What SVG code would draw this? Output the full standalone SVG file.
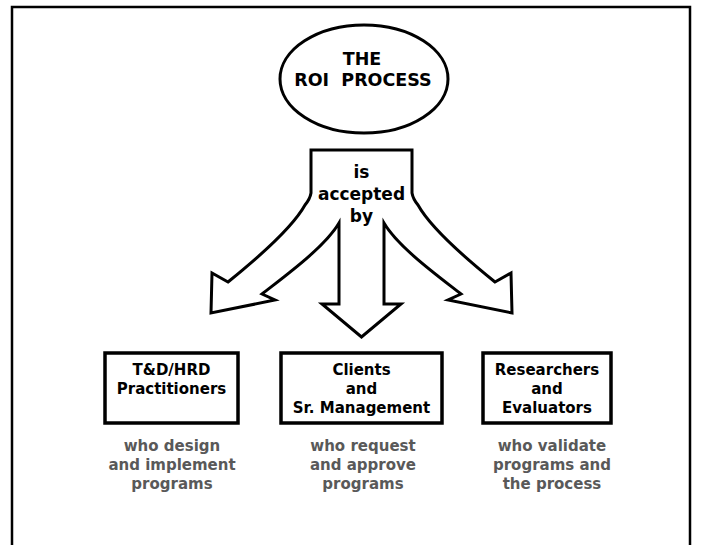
<svg xmlns="http://www.w3.org/2000/svg" width="701" height="545" viewBox="0 0 701 545">
<style>
.t{font-family:"DejaVu Sans","Liberation Sans",sans-serif;font-weight:bold;text-anchor:middle;fill:#000}
.b{font-size:15px}
.s{font-size:15px;fill:#595959}
.box{fill:#fff;stroke:#000;stroke-width:3.5}
</style>
<rect width="701" height="545" fill="#fff"/>
<g id="frame" fill="none" stroke="#000" stroke-width="2.5">
<path d="M12 545 V7 H690 V545"/>
</g>
<g id="title">
<ellipse cx="364" cy="79" rx="84" ry="54" fill="#fff" stroke="#000" stroke-width="3"/>
<text class="t" x="362" y="65" font-size="17.5">THE</text>
<text class="t" x="363" y="86" font-size="17.5" xml:space="preserve">ROI  PROCESS</text>
</g>
<g id="connectors">
<path d="M311 150 L311 193 Q310 199 305 205 Q290 232 228 282 L212 273 L211 313 L275 300 L262 294 C285 276 325 247 339 223 L339 304 L322 304 L361.5 337 L401 304 L384 304 L384 223 C398 247 438 276 461 294 L448 300 L512 313 L511 273 L495 282 Q433 232 418 205 Q413 199 412 193 L412 150 Z" fill="#fff" stroke="#000" stroke-width="3" stroke-linejoin="miter"/>
<text class="t" x="361.5" y="178" font-size="17">is</text>
<text class="t" x="361.5" y="200" font-size="17">accepted</text>
<text class="t" x="361.5" y="222" font-size="17">by</text>
</g>
<g id="practitioners">
<rect class="box" x="105" y="353" width="133" height="70"/>
<text class="t b" x="171.5" y="375">T&amp;D/HRD</text>
<text class="t b" x="171.5" y="394">Practitioners</text>
<text class="t s" x="172" y="451">who design</text>
<text class="t s" x="172" y="470">and implement</text>
<text class="t s" x="172" y="489">programs</text>
</g>
<g id="clients">
<rect class="box" x="281" y="353" width="161" height="70"/>
<text class="t b" x="361.5" y="375">Clients</text>
<text class="t b" x="361.5" y="394">and</text>
<text class="t b" x="361.5" y="413">Sr. Management</text>
<text class="t s" x="363" y="451">who request</text>
<text class="t s" x="363" y="470">and approve</text>
<text class="t s" x="363" y="489">programs</text>
</g>
<g id="researchers">
<rect class="box" x="483" y="353" width="128" height="70"/>
<text class="t b" x="547" y="375">Researchers</text>
<text class="t b" x="547" y="394">and</text>
<text class="t b" x="547" y="413">Evaluators</text>
<text class="t s" x="552" y="451">who validate</text>
<text class="t s" x="552" y="470">programs and</text>
<text class="t s" x="552" y="489">the process</text>
</g>
</svg>
